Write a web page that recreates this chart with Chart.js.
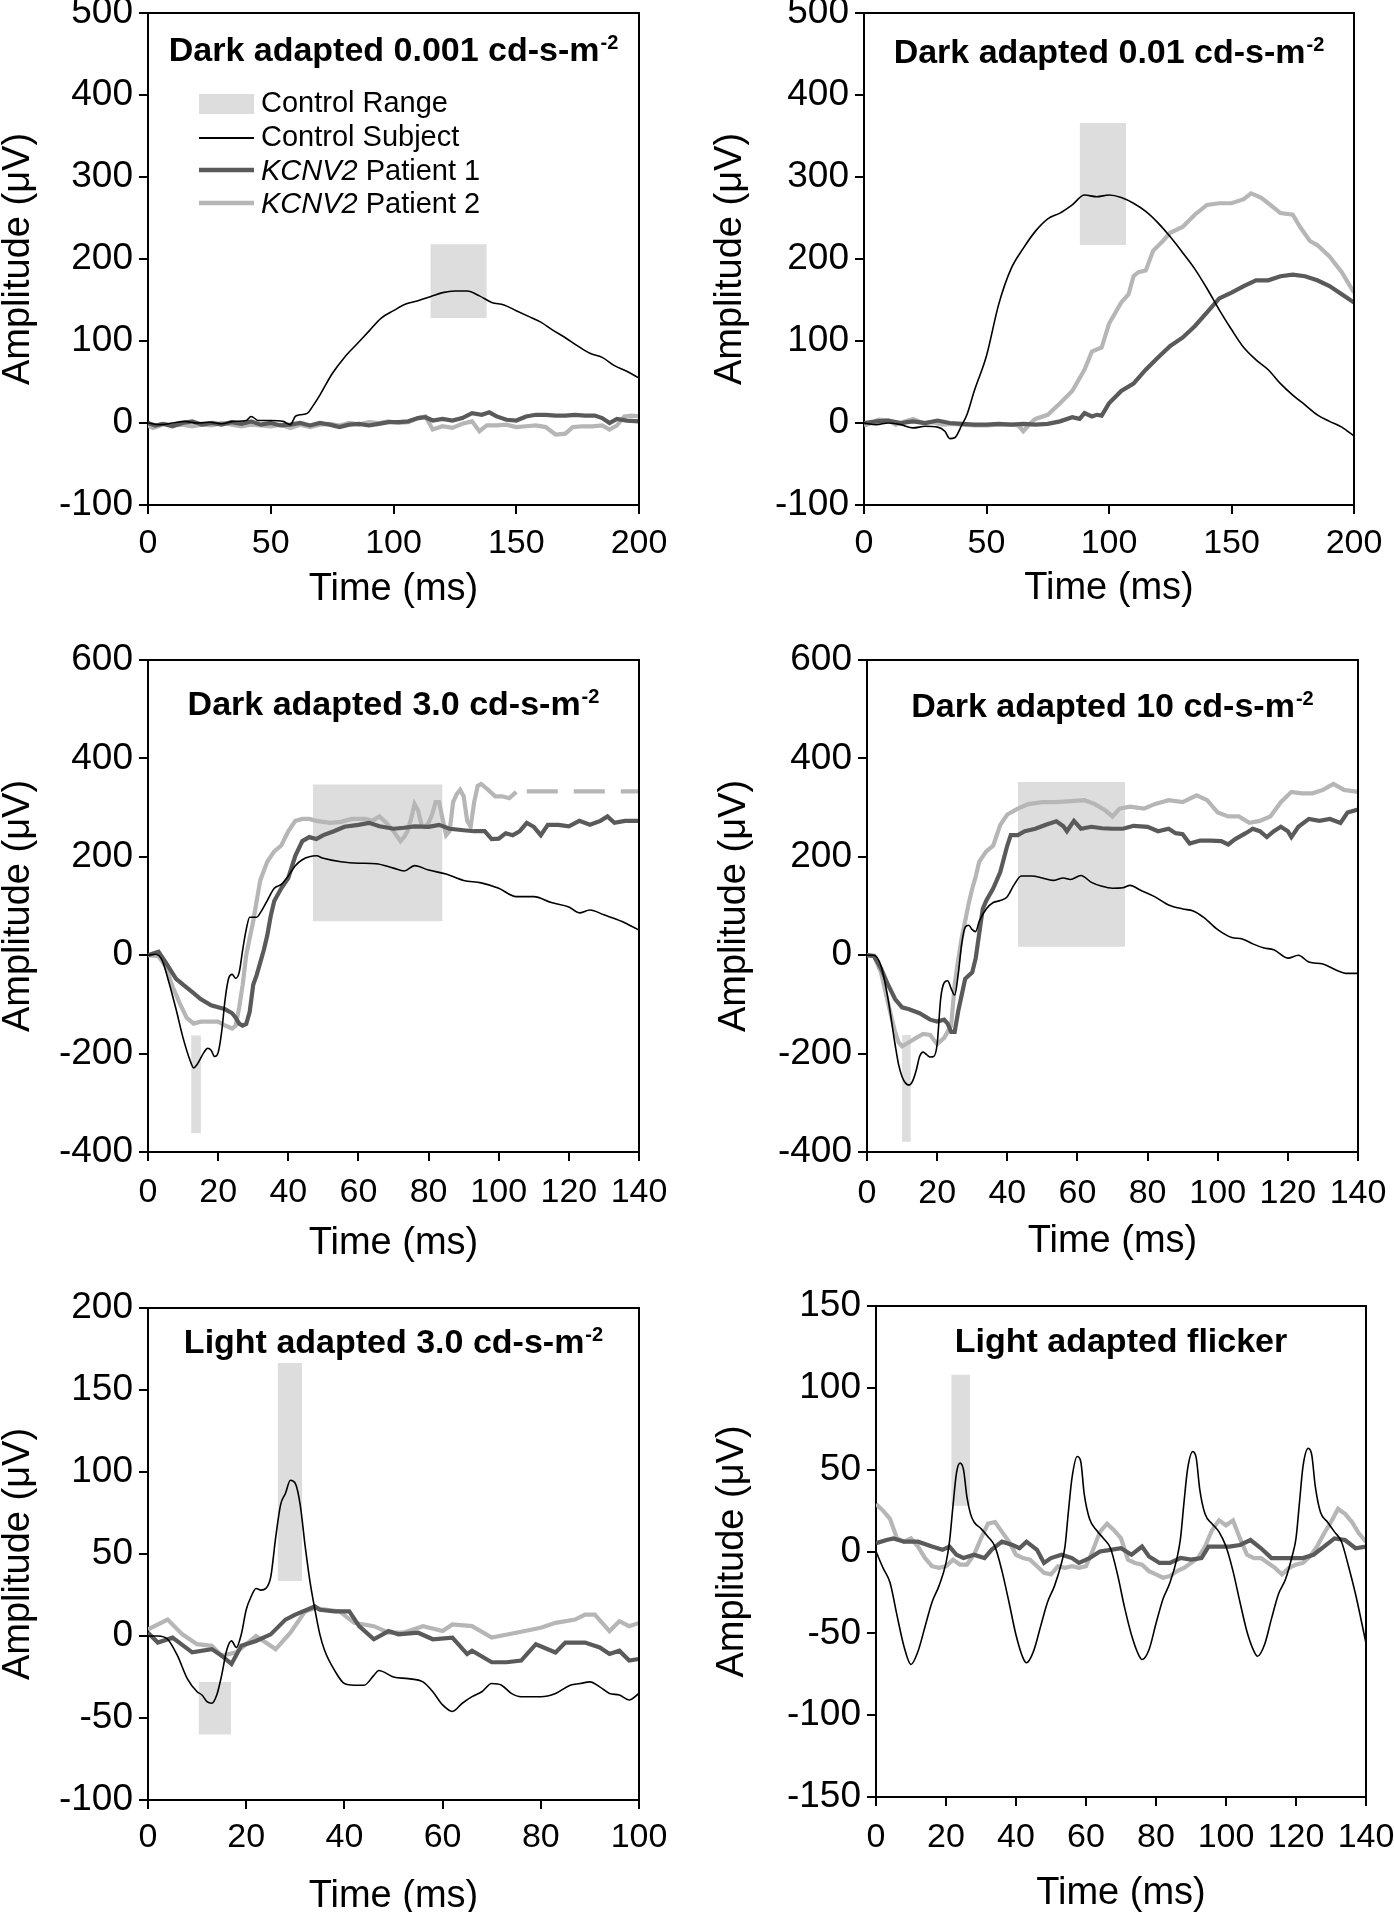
<!DOCTYPE html>
<html>
<head>
<meta charset="utf-8">
<title>KCNV2 ERG</title>
<script src="https://cdn.jsdelivr.net/npm/chart.js@4.4.1/dist/chart.umd.min.js"></script>
<style>
  html, body { margin: 0; padding: 0; background: #fff; width: 1394px; height: 1912px; overflow: hidden; }
  #fig { position: relative; width: 1394px; height: 1912px; overflow: hidden; }
  #fig canvas { position: absolute; }
</style>
</head>
<body>
<div id="fig">
  <canvas id="c1"></canvas>
  <canvas id="c2"></canvas>
  <canvas id="c3"></canvas>
  <canvas id="c4"></canvas>
  <canvas id="c5"></canvas>
  <canvas id="c6"></canvas>
</div>
<script>
'use strict'

// ---- Dark adapted 0.001 ----
var da001CtrlT = [0,5,10,15,20,25,30,35,40,42,45,50,55,58,60,62,65,67,70,75,80,85,90,95,100,105,110,115,120,125,130,135,140,145,150,155,160,165,170,175,180,185,190,195,200]
var da001CtrlV = [0,-2,0,2,0,1,-1,2,3,8,3,3,2,-2,8,10,12,20,34,60,80,96,112,128,137,145,149,154,159,161,161,155,147,144,137,130,123,113,104,94,85,80,70,63,55]
var da001P1T = [0,3,6,10,14,18,22,26,30,34,38,42,46,50,54,58,62,66,70,74,78,82,86,90,94,98,102,106,110,113,116,120,124,128,132,136,139,142,146,150,154,158,162,166,170,174,178,182,185,188,191,195,200]
var da001P1V = [0,-3,-1,-4,0,2,-2,0,-2,1,-1,2,-2,0,-3,-2,0,-3,0,-2,-5,-2,-1,-3,-1,1,1,2,6,7,3,5,3,6,12,10,13,8,4,3,8,10,10,9,9,10,9,9,6,0,5,3,2]
var da001P2T = [0,2,4,7,10,14,18,22,26,30,34,38,42,46,50,54,58,62,66,70,74,78,82,86,90,94,98,102,106,110,113,116,120,124,128,132,135,138,142,146,150,154,158,162,166,170,173,177,181,185,188,191,194,197,200]
var da001P2V = [-3,-6,-4,-1,-3,-2,-4,-2,-3,0,-2,-4,-2,-3,-4,-2,-6,-2,-5,-2,-1,-3,0,-2,1,0,2,0,1,6,8,-8,-4,-6,-1,2,-10,-3,-3,-2,-5,-4,-3,-5,-14,-13,-5,-4,-4,-3,-8,-3,8,9,8]
var da001RangeX = [115, 138]
var da001RangeY = [128, 218]

// ---- Dark adapted 0.01 ----
var da01CtrlT = [0,5,10,15,20,25,30,33,35,37,40,42,45,50,55,60,65,70,75,80,85,90,95,100,105,110,115,120,125,130,135,140,145,150,155,160,165,170,175,180,185,190,195,200]
var da01CtrlV = [0,-2,0,-2,-6,-4,-5,-10,-19,-18,-2,10,39,82,145,188,213,234,249,256,266,278,276,278,275,268,258,244,227,208,188,164,138,114,92,77,65,48,34,22,10,2,-5,-16]
var da01P1T = [0,5,10,15,20,25,30,35,40,45,50,55,60,65,70,75,80,85,88,90,93,95,97,100,105,110,115,120,125,130,135,140,145,150,155,160,165,170,175,180,185,190,195,200]
var da01P1V = [0,2,3,0,2,0,3,0,-1,-2,-2,-1,-2,-1,-2,-1,2,7,5,12,8,10,9,24,39,48,65,80,94,104,118,135,152,159,167,174,174,179,181,179,174,167,157,147]
var da01P2T = [0,3,6,10,13,17,20,24,28,32,36,40,45,50,55,60,63,65,68,70,75,80,85,90,93,97,100,105,108,110,112,115,118,122,125,130,135,140,145,150,155,158,162,165,170,175,178,182,185,190,195,200]
var da01P2V = [-3,0,4,3,-2,2,5,0,1,-2,-1,-2,-3,-3,-2,-2,-3,-10,0,5,10,24,39,65,87,92,121,147,157,179,184,186,210,222,232,239,254,266,268,268,273,280,275,268,256,254,239,222,217,203,184,159]
var da01RangeX = [88, 107]
var da01RangeY = [217, 366]

// ---- Dark adapted 3.0 ----
var da3CtrlT = [0,2,4,6,8,10,12,13,14,16,17,18,19,20,21,22,23,24,25,26,27,28,29,31,32,34,36,38,40,42,44,46,48,50,55,60,65,70,73,76,80,85,90,95,100,105,110,115,120,123,126,130,135,140]
var da3CtrlV = [0,2,-10,-56,-110,-168,-214,-229,-222,-197,-189,-193,-206,-198,-156,-89,-47,-39,-47,-35,11,52,77,77,86,111,136,144,161,182,194,200,202,197,190,187,186,177,171,182,173,165,152,147,136,119,119,107,98,86,92,82,69,51]
var da3P1T = [0,3,5,8,10,13,15,18,20,22,24,25,26,27,28,29,30,31,32,33,34,35,36,38,40,42,44,46,48,50,53,56,60,63,66,70,73,76,80,83,86,90,93,96,98,100,102,104,106,108,110,112,114,117,120,123,126,129,131,133,136,140]
var da3P1V = [0,7,-14,-48,-60,-77,-89,-102,-106,-110,-118,-127,-139,-143,-140,-115,-60,-40,-15,10,40,80,110,136,157,202,232,240,236,244,252,261,265,269,262,257,259,262,261,265,257,254,252,252,236,237,248,244,252,269,261,244,265,265,262,273,265,273,282,269,273,273]
var da3P2T = [0,3,5,7,9,11,13,15,18,20,22,24,25,26,27,28,29,30,31,32,34,36,38,40,42,44,46,48,52,55,58,60,62,64,66,68,70,72,73,74,75,76,77,78,79,80,81,82,83,84,85,86,87,88,89,90,91,92,93,94,95,97,99,101,103,105]
var da3P2V = [0,-2,-22,-64,-97,-127,-139,-135,-135,-135,-143,-149,-143,-106,-60,0,35,69,111,152,190,211,223,252,273,277,277,273,269,271,277,277,277,273,282,269,252,232,240,252,277,307,294,265,261,269,286,311,311,277,244,252,311,327,336,323,273,261,311,344,348,336,323,323,319,332]
var da3P2DashT = [108, 140]
var da3P2DashV = [333, 333]
var da3RangeX = [[47, 84], [12.3, 15.1]]
var da3RangeY = [[69, 347], [-362, -163]]

// ---- Dark adapted 10 ----
var da10CtrlT = [0,2,4,6,8,9,10,11,12,13,14,15,16,17,18,19,20,21,22,23,24,25,26,27,28,29,30,31,32,34,36,38,40,42,44,47,50,53,56,58,61,64,67,70,73,75,78,82,86,90,93,96,100,104,107,110,113,116,120,123,126,130,134,137,140]
var da10CtrlV = [0,0,-22,-89,-181,-222,-247,-260,-264,-256,-235,-206,-197,-202,-207,-206,-181,-89,-56,-52,-68,-81,-39,23,57,61,52,48,69,94,107,111,119,144,161,161,157,152,157,154,162,148,140,136,137,142,132,119,102,94,90,77,52,36,33,23,15,11,-6,0,-14,-18,-31,-37,-37]
var da10P1T = [0,2,4,6,8,10,12,15,18,20,22,23,24,25,26,27,28,30,31,32,33,34,36,38,40,41,43,45,48,51,54,56,57,59,61,64,67,70,73,76,80,83,86,88,90,92,95,98,101,103,105,108,110,112,114,116,118,120,121,123,126,129,132,135,137,140]
var da10P1V = [0,-2,-27,-60,-89,-106,-110,-118,-131,-135,-131,-139,-156,-156,-114,-81,-48,-35,-6,44,94,111,136,169,223,244,244,252,257,265,272,262,252,273,257,261,258,257,257,263,261,252,257,248,246,227,233,233,232,225,236,248,257,252,240,252,261,252,240,261,277,273,277,269,290,296]
var da10P2T = [0,2,4,6,8,9,10,12,14,16,18,20,22,24,25,26,27,28,29,30,31,32,34,36,38,40,43,46,50,54,58,62,65,68,70,72,75,79,82,86,90,94,97,100,103,106,109,112,115,118,121,124,127,130,133,136,140]
var da10P2V = [0,-1,-35,-97,-156,-177,-185,-177,-168,-160,-162,-181,-168,-143,-60,-10,35,70,105,135,160,190,211,223,265,286,298,307,311,311,313,315,307,294,282,298,302,298,307,315,311,325,315,290,282,282,269,273,282,311,332,329,329,336,348,336,332]
var da10RangeX = [[43, 73.6], [10, 12.5]]
var da10RangeY = [[17, 352], [-379, -162]]

// ---- Light adapted 3.0 ----
var la3CtrlT = [0,2,4,6,8,10,11,12,13,14,15,16,17,18,19,20,21,22,23,24,25,26,27,28,29,30,31,32,33,34,35,36,38,40,42,44,46,47,50,53,56,58,60,62,64,66,68,70,72,74,76,78,80,83,86,88,90,92,94,96,98,100]
var la3CtrlV = [0,0,-2,-12,-26,-34,-36,-40,-41,-36,-24,-9,-3,-7,1,16,24,29,28,29,36,60,80,87,95,93,80,55,33,16,1,-9,-21,-29,-30,-30,-24,-21,-25,-26,-28,-34,-42,-46,-41,-37,-34,-29,-30,-35,-37,-37,-37,-35,-30,-29,-28,-31,-35,-36,-39,-35]
var la3P1T = [0,2,5,9,13,15,17,19,22,25,28,30,34,35,38,41,43,46,49,51,55,58,62,65,66,70,73,76,79,83,85,89,92,94,96,98,100]
var la3P1V = [2,-4,-1,-10,-8,-12,-17,-6,-3,1,10,13,18,16,15,15,6,-2,3,1,2,-2,-1,-11,-9,-16,-16,-15,-5,-10,-4,-4,-7,-11,-9,-15,-14]
var la3P2T = [0,4,7,10,13,15,18,22,26,29,32,34,39,42,46,49,52,56,60,62,66,70,75,80,83,87,89,91,94,96,98,100]
var la3P2V = [4,10,1,-5,-6,-12,-10,0,-8,2,15,17,15,8,6,2,2,6,3,7,6,-1,2,5,8,10,13,13,3,9,6,8]
var la3RangeX = [[26.4, 31.4], [10.3, 16.9]]
var la3RangeY = [[33.5, 166.5], [-60, -28]]

// ---- Light adapted flicker ----
var flkCtrlT = [0,2,4,6,8,10,12,14,16,18,20,21,22,23,24,25,26,27,28,30,32,34,36,38,40,42,43,45,47,49,51,53,54,55,56,57.5,58.5,59.5,61,63,65,67,69,71,73,75,76,78,80,82,84,86,87,88,89,90.5,91.5,92.5,94,96,98,100,102,104,106,108,109,111,113,115,117,119,120,121,122,123.5,124.5,125.5,127,129,131,133,135,137,140]
var flkCtrlV = [0,-10,-19,-39,-58,-69,-61,-46,-31,-21,-7,6,28,48,54,50,33,23,18,14,9,3,-12,-31,-51,-65,-68,-61,-46,-31,-21,-7,3,25,45,58,55,35,20,13,8,2,-14,-34,-51,-63,-66,-60,-44,-29,-19,-4,8,30,50,61,57,38,23,17,12,3,-12,-31,-49,-61,-64,-57,-41,-26,-17,-2,8,30,52,63,59,40,24,18,12,6,-9,-26,-56]
var flkP1T = [0,3,5,8,12,16,19,21,23,25,28,31,33,36,39,41,43,46,48,50,53,56,58,61,64,67,70,73,76,78,81,84,87,90,93,95,98,101,104,107,110,113,116,119,122,125,128,131,134,137,140]
var flkP1V = [5,7,8,6,6,3,1,3,-2,-4,-2,-4,1,6,4,2,6,1,-7,-4,-2,-4,-7,-4,0,1,2,-2,3,-3,-7,-7,-4,-5,-4,3,3,3,4,7,2,-4,-4,-4,-4,-2,3,8,7,2,3]
var flkP2T = [0,2,4,6,8,10,12,14,16,18,20,22,24,26,28,30,32,34,36,38,40,42,44,46,48,50,52,54,56,58,60,62,64,66,68,70,72,74,76,78,80,82,84,86,88,90,92,94,96,98,100,102,104,106,108,110,112,114,116,118,120,122,124,126,128,130,132,134,136,138,140]
var flkP2V = [29,25,20,8,6,8,3,-4,-9,-10,-9,-5,-8,-8,-2,8,17,18,12,6,-2,-4,-5,-9,-13,-14,-9,-10,-9,-10,-9,1,12,17,13,8,-5,-7,-8,-12,-14,-16,-15,-12,-10,-7,-4,3,13,19,16,19,8,-2,-4,-4,-7,-10,-14,-10,-8,-7,-3,3,11,18,26,23,18,11,6]
var flkRangeX = [21.5, 26.9]
var flkRangeY = [28, 108]

// axis ranges [min, max, step]
var timeAxis200 = [0, 200, 50]
var timeAxis140 = [0, 140, 20]
var timeAxis100 = [0, 100, 20]
var ampAxisDim = [-100, 500, 100]
var ampAxisBright = [-400, 600, 200]
var ampAxisLA = [-100, 200, 50]
var ampAxisFlicker = [-150, 150, 50]

var BLACK = '#000000'
var DARK = '#5a5a5a'
var LIGHT = '#b6b6b6'
var RANGE = '#dddddd'
var CLEAR = 'rgba(0,0,0,0)'
var FONT = '"Liberation Sans", Arial, Helvetica, sans-serif'

var X_TICK_SIZE = 34
var Y_TICK_SIZE = 37
var AXIS_TITLE_SIZE = 38
var PANEL_TITLE_SIZE = 34
var LEGEND_SIZE = 29

Chart.defaults.font.family = FONT
Chart.defaults.color = '#000'

function pts(t, v) {
  return t.map(function (x, i) { return { x: x, y: v[i] } })
}

function traceSet(t, v, color, width, order, smooth) {
  return {
    data: pts(t, v),
    borderColor: color,
    borderWidth: width,
    pointRadius: 0,
    fill: false,
    order: order,
    cubicInterpolationMode: smooth ? 'monotone' : 'default',
    tension: 0
  }
}

// control range box = band between two flat lines
function rangeSets(rx, ry) {
  return [
    { data: pts(rx, [ry[1], ry[1]]), fill: '+1', backgroundColor: RANGE, borderColor: CLEAR, borderWidth: 0, pointRadius: 0, order: 10 },
    { data: pts(rx, [ry[0], ry[0]]), fill: false, borderColor: CLEAR, borderWidth: 0, pointRadius: 0, order: 10 }
  ]
}

function drawLegend(ctx, a) {
  var x0 = a.left + 51
  var x1 = a.left + 106
  var tx = a.left + 113
  ctx.fillStyle = RANGE
  ctx.fillRect(x0, a.top + 81, x1 - x0, 20)
  var lines = [[a.top + 125, BLACK, 2], [a.top + 157, DARK, 4.5], [a.top + 190, LIGHT, 4.5]]
  lines.forEach(function (l) {
    ctx.strokeStyle = l[1]
    ctx.lineWidth = l[2]
    ctx.beginPath()
    ctx.moveTo(x0, l[0])
    ctx.lineTo(x1, l[0])
    ctx.stroke()
  })
  var f = LEGEND_SIZE + 'px ' + FONT
  ctx.fillStyle = '#000'
  ctx.textAlign = 'left'
  ctx.textBaseline = 'middle'
  ctx.font = f
  ctx.fillText('Control Range', tx, a.top + 91)
  ctx.fillText('Control Subject', tx, a.top + 125)
  ;[['1', a.top + 159], ['2', a.top + 192]].forEach(function (r) {
    ctx.font = 'italic ' + f
    ctx.fillText('KCNV2', tx, r[1])
    var w = ctx.measureText('KCNV2').width
    ctx.font = f
    ctx.fillText(' Patient ' + r[0], tx + w, r[1])
  })
}

var panelDecor = {
  id: 'panelDecor',
  afterDraw: function (chart, args, opts) {
    var ctx = chart.ctx
    var a = chart.chartArea
    var mainFont = 'bold ' + PANEL_TITLE_SIZE + 'px ' + FONT
    var supFont = 'bold 20px ' + FONT
    ctx.save()
    // top and right frame
    ctx.strokeStyle = '#000'
    ctx.lineWidth = 2
    ctx.beginPath()
    ctx.moveTo(a.left, a.top)
    ctx.lineTo(a.right, a.top)
    ctx.lineTo(a.right, a.bottom)
    ctx.stroke()
    // panel title with superscript
    ctx.fillStyle = '#000'
    ctx.textAlign = 'left'
    ctx.textBaseline = 'alphabetic'
    ctx.font = mainFont
    var w1 = ctx.measureText(opts.title).width
    ctx.font = supFont
    var w2 = opts.sup ? ctx.measureText(opts.sup).width + 1 : 0
    var x0 = (a.left + a.right) / 2 - (w1 + w2) / 2
    var yb = a.top + opts.base
    ctx.font = mainFont
    ctx.fillText(opts.title, x0, yb)
    if (opts.sup) {
      ctx.font = supFont
      ctx.fillText(opts.sup, x0 + w1 + 1, yb - 12)
    }
    if (opts.legend) drawLegend(ctx, a)
    ctx.restore()
  }
}

var panels = [
  { id: 'c1', col: 0, plot: [148, 13, 639, 505], yTitleX: 19, xTitleY: 590, xTickPad: 13, xAxis: timeAxis200, yAxis: ampAxisDim,
    title: 'Dark adapted 0.001 cd-s-m', sup: '-2', base: 47.5, legend: true,
    traces: [[da001CtrlT, da001CtrlV], [da001P1T, da001P1V], [da001P2T, da001P2V]], ranges: [[da001RangeX, da001RangeY]] },
  { id: 'c2', col: 697, plot: [864, 13, 1354, 505], yTitleX: 731, xTitleY: 589, xTickPad: 13, xAxis: timeAxis200, yAxis: ampAxisDim,
    title: 'Dark adapted 0.01 cd-s-m', sup: '-2', base: 50,
    traces: [[da01CtrlT, da01CtrlV], [da01P1T, da01P1V], [da01P2T, da01P2V]], ranges: [[da01RangeX, da01RangeY]] },
  { id: 'c3', col: 0, plot: [148, 660, 639, 1152], yTitleX: 19, xTitleY: 1244, xTickPad: 15, xAxis: timeAxis140, yAxis: ampAxisBright,
    title: 'Dark adapted 3.0 cd-s-m', sup: '-2', base: 55,
    traces: [[da3CtrlT, da3CtrlV], [da3P1T, da3P1V], [da3P2T, da3P2V]], dash: [da3P2DashT, da3P2DashV],
    ranges: [[da3RangeX[0], da3RangeY[0]], [da3RangeX[1], da3RangeY[1]]] },
  { id: 'c4', col: 697, plot: [867, 660, 1358, 1152], yTitleX: 735, xTitleY: 1242, xTickPad: 16, xAxis: timeAxis140, yAxis: ampAxisBright,
    title: 'Dark adapted 10 cd-s-m', sup: '-2', base: 57,
    traces: [[da10CtrlT, da10CtrlV], [da10P1T, da10P1V], [da10P2T, da10P2V]],
    ranges: [[da10RangeX[0], da10RangeY[0]], [da10RangeX[1], da10RangeY[1]]] },
  { id: 'c5', col: 0, plot: [148, 1308, 639, 1800], yTitleX: 19, xTitleY: 1897, xTickPad: 12, xAxis: timeAxis100, yAxis: ampAxisLA,
    title: 'Light adapted 3.0 cd-s-m', sup: '-2', base: 44.5,
    traces: [[la3CtrlT, la3CtrlV], [la3P1T, la3P1V], [la3P2T, la3P2V]],
    ranges: [[la3RangeX[0], la3RangeY[0]], [la3RangeX[1], la3RangeY[1]]] },
  { id: 'c6', col: 697, plot: [876, 1306, 1366, 1797], yTitleX: 733, xTitleY: 1894, xTickPad: 15, xAxis: timeAxis140, yAxis: ampAxisFlicker,
    title: 'Light adapted flicker', sup: '', base: 45.7,
    traces: [[flkCtrlT, flkCtrlV], [flkP1T, flkP1V], [flkP2T, flkP2V]], ranges: [[flkRangeX, flkRangeY]] }
]

function buildPanel(p) {
  var canvas = document.getElementById(p.id)
  var cw = 720, ch = 660
  var cl = p.col
  var ct = p.plot[1] - 40
  canvas.width = cw
  canvas.height = ch
  canvas.style.left = cl + 'px'
  canvas.style.top = ct + 'px'

  var titleOff = AXIS_TITLE_SIZE / 2
  var padL = p.yTitleX - cl - titleOff
  var yW = p.plot[0] - cl - padL
  var xH = p.xTitleY - p.plot[3] + titleOff
  var padR = cl + cw - p.plot[2]
  var padB = ct + ch - p.plot[3] - xH

  var datasets = [
    traceSet(p.traces[0][0], p.traces[0][1], BLACK, 1.6, 0, true),
    traceSet(p.traces[1][0], p.traces[1][1], DARK, 4.2, 1, false),
    traceSet(p.traces[2][0], p.traces[2][1], LIGHT, 4.2, 2, false)
  ]
  if (p.dash) {
    var d = traceSet(p.dash[0], p.dash[1], LIGHT, 4.2, 2, false)
    d.borderDash = [31, 16]
    datasets.push(d)
  }
  p.ranges.forEach(function (r) {
    datasets = datasets.concat(rangeSets(r[0], r[1]))
  })

  var tickGrid = { drawOnChartArea: false, drawTicks: true, tickLength: 9, color: '#000', lineWidth: 2 }
  var axisBorder = { display: true, color: '#000', width: 2 }
  var titleFont = { size: AXIS_TITLE_SIZE, lineHeight: 1 }

  return new Chart(canvas.getContext('2d'), {
    type: 'line',
    data: { datasets: datasets },
    options: {
      responsive: false,
      animation: false,
      devicePixelRatio: 1,
      events: [],
      layout: { padding: { left: padL, top: 40, right: padR, bottom: padB } },
      plugins: {
        legend: { display: false },
        tooltip: { enabled: false },
        panelDecor: { title: p.title, sup: p.sup, base: p.base, legend: !!p.legend }
      },
      scales: {
        x: {
          type: 'linear',
          min: p.xAxis[0],
          max: p.xAxis[1],
          ticks: { stepSize: p.xAxis[2], autoSkip: false, maxRotation: 0, padding: p.xTickPad, color: '#000', font: { size: X_TICK_SIZE, lineHeight: 1 } },
          grid: tickGrid,
          border: axisBorder,
          title: { display: true, text: 'Time (ms)', color: '#000', padding: 0, font: titleFont },
          afterFit: function (s) { s.height = xH }
        },
        y: {
          type: 'linear',
          min: p.yAxis[0],
          max: p.yAxis[1],
          ticks: { stepSize: p.yAxis[2], autoSkip: false, padding: 6, color: '#000', font: { size: Y_TICK_SIZE, lineHeight: 1 } },
          grid: tickGrid,
          border: axisBorder,
          title: { display: true, text: 'Amplitude (\u03BCV)', color: '#000', padding: 0, font: titleFont },
          afterFit: function (s) { s.width = yW }
        }
      }
    },
    plugins: [panelDecor]
  })
}

panels.forEach(buildPanel)
</script>
</body>
</html>
